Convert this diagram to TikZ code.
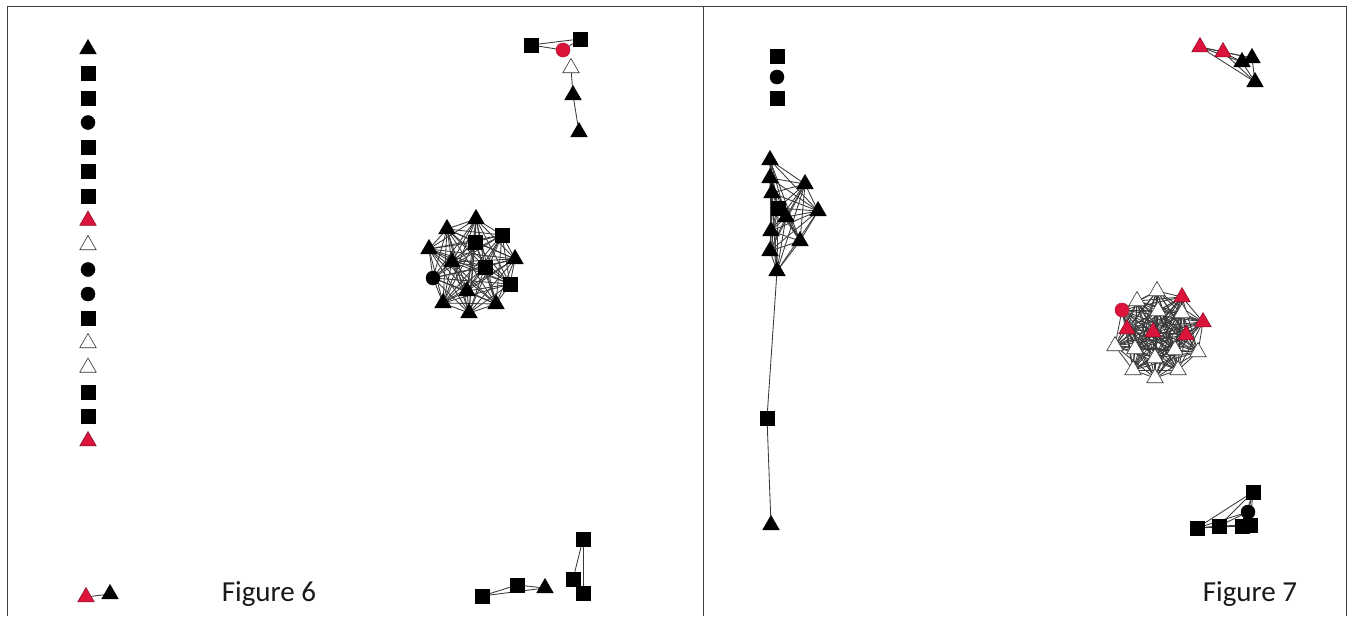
\documentclass[tikz,border=0pt]{standalone}
\usepackage{fontspec}
\setmainfont{Carlito}
\usetikzlibrary{shapes.geometric,backgrounds}
\definecolor{ink}{HTML}{000000}
\definecolor{netred}{HTML}{DC143C}
\definecolor{frame}{HTML}{404040}
\definecolor{link}{HTML}{3A3A3A}
\tikzset{
  vtx/.style={draw=ink, line width=0.5pt, inner sep=0pt},
  sqr/.style={vtx, rectangle, fill=ink, minimum size=14pt},
  dot/.style={vtx, circle, fill=ink, minimum size=14pt},
  rdot/.style={vtx, circle, fill=netred, draw=netred!80!black, minimum size=14pt},
  btri/.style={vtx, regular polygon, regular polygon sides=3, fill=ink, minimum size=19pt},
  rtri/.style={btri, fill=netred, draw=netred!60!black},
  wtri/.style={btri, fill=white, draw=ink!80, line width=0.6pt},
  link/.style={draw=link, line width=0.85pt},
  figlabel/.style={text=ink!90, font=\fontsize{29}{34}\selectfont}
}
\newcommand{\fullnet}[2]{%
  \foreach \i in {1,...,#2} {
    \foreach \j in {1,...,#2} {
      \ifnum\j>\i \draw[link] (#1\i) -- (#1\j); \fi
    }
  }
}

\begin{document}
\begin{tikzpicture}[x=1pt,y=-1pt]
  \useasboundingbox (0,0) rectangle (1351,616);
  \begin{scope}[on background layer]
    \fill[white] (0,0) rectangle (1351,616);
  \end{scope}

  % Two panels.
  \draw[frame, line width=1pt] (7,6) -- (1346,6);
  \draw[frame, line width=1pt] (7,6) -- (7,616);
  \draw[frame, line width=1pt] (703,6) -- (703,616);
  \draw[frame, line width=1pt] (1346,6) -- (1346,616);

  % Figure 6: isolated nodes.
  \foreach \s [count=\i] in {btri,sqr,sqr,dot,sqr,sqr,sqr,rtri,wtri,dot,dot,sqr,wtri,wtri,sqr,sqr,rtri} {
    \node[\s] (a\i) at (88,{24.5+24.5*\i}) {};
  }

  % Figure 6: top right chain.
  \node[sqr] (t1) at (531,45) {};
  \node[sqr] (t2) at (580,39) {};
  \node[rdot] (t3) at (563,50) {};
  \node[wtri] (t4) at (571,68) {};
  \node[btri] (t5) at (573,95) {};
  \node[btri] (t6) at (579,132) {};
  \begin{scope}[on background layer]
    \draw[link] (t1) -- (t2);
    \draw[link] (t1) -- (t3);
    \draw[link] (t3) -- (t2);
    \draw[link] (t4) -- (t5);
    \draw[link] (t5) -- (t6);
  \end{scope}

  % Figure 6: central clique.
  \node[btri] (c1) at (476,219) {};
  \node[btri] (c2) at (447,229) {};
  \node[sqr] (c3) at (502,235) {};
  \node[sqr] (c4) at (475,242) {};
  \node[btri] (c5) at (429,249) {};
  \node[btri] (c6) at (515,259) {};
  \node[btri] (c7) at (452,262) {};
  \node[sqr] (c8) at (485,267) {};
  \node[dot] (c9) at (433,278) {};
  \node[sqr] (c10) at (510,284) {};
  \node[btri] (c11) at (467,291) {};
  \node[btri] (c12) at (443,303) {};
  \node[btri] (c13) at (496,304) {};
  \node[btri] (c14) at (469,313) {};
  \begin{scope}[on background layer]
    \fullnet{c}{14}
  \end{scope}

  % Figure 6: bottom pieces.
  \node[sqr] (b1) at (482,596) {};
  \node[sqr] (b2) at (517,585) {};
  \node[btri] (b3) at (545,588) {};
  \node[sqr] (b4) at (583,539) {};
  \node[sqr] (b5) at (573,579) {};
  \node[sqr] (b6) at (583,593) {};
  \begin{scope}[on background layer]
    \draw[link] (b1) -- (b2);
    \draw[link] (b1) -- (b3);
    \draw[link] (b2) -- (b3);
    \draw[link] (b4) -- (b5);
    \draw[link] (b4) -- (b6);
    \draw[link] (b5) -- (b6);
  \end{scope}

  % Figure 6: legend pair.
  \node[rtri] (g1) at (86,597) {};
  \node[btri] (g2) at (110,594) {};
  \begin{scope}[on background layer]
    \draw[link] (g1) -- (g2);
  \end{scope}
  \node[figlabel] (f6) at (269,594) {Figure 6};

  % Figure 7: isolated nodes.
  \node[sqr] (s1) at (777,56) {};
  \node[dot] (s2) at (777,77) {};
  \node[sqr] (s3) at (777,98) {};

  % Figure 7: left clique and tail.
  \node[btri] (l1) at (770,160) {};
  \node[btri] (l2) at (770,178) {};
  \node[btri] (l3) at (772,193) {};
  \node[sqr] (l4) at (778,208) {};
  \node[btri] (l5) at (805,184) {};
  \node[btri] (l6) at (818,211) {};
  \node[btri] (l7) at (786,217) {};
  \node[btri] (l8) at (771,231) {};
  \node[btri] (l9) at (800,241) {};
  \node[btri] (l10) at (770,251) {};
  \node[btri] (l11) at (777,271) {};
  \node[sqr] (m1) at (767,418) {};
  \node[btri] (m2) at (771,525) {};
  \begin{scope}[on background layer]
    \fullnet{l}{11}
    \draw[link] (l11) -- (m1);
    \draw[link] (m1) -- (m2);
  \end{scope}

  % Figure 7: top right clique.
  \node[rtri] (r1) at (1200,47) {};
  \node[rtri] (r2) at (1223,52) {};
  \node[btri] (r3) at (1242,62) {};
  \node[btri] (r4) at (1252,58) {};
  \node[btri] (r5) at (1255,82) {};
  \begin{scope}[on background layer]
    \fullnet{r}{5}
  \end{scope}

  % Figure 7: central clique.
  \node[wtri] (k1) at (1157,291) {};
  \node[rtri] (k2) at (1182,297) {};
  \node[wtri] (k3) at (1137,301) {};
  \node[rdot] (k4) at (1122,310) {};
  \node[wtri] (k5) at (1158,311) {};
  \node[wtri] (k6) at (1182,313) {};
  \node[rtri] (k7) at (1203,322) {};
  \node[rtri] (k8) at (1127,329) {};
  \node[rtri] (k9) at (1153,332) {};
  \node[rtri] (k10) at (1186,335) {};
  \node[wtri] (k11) at (1115,346) {};
  \node[wtri] (k12) at (1135,349) {};
  \node[wtri] (k13) at (1175,350) {};
  \node[wtri] (k14) at (1198,352) {};
  \node[wtri] (k15) at (1155,358) {};
  \node[wtri] (k16) at (1133,370) {};
  \node[wtri] (k17) at (1178,370) {};
  \node[wtri] (k18) at (1155,378) {};
  \begin{scope}[on background layer]
    \fullnet{k}{18}
  \end{scope}

  % Figure 7: bottom right clique.
  \node[sqr] (q1) at (1253,492) {};
  \node[dot] (q2) at (1248,512) {};
  \node[sqr] (q3) at (1197,528) {};
  \node[sqr] (q4) at (1219,526) {};
  \node[sqr] (q5) at (1242,526) {};
  \node[sqr] (q6) at (1250,525) {};
  \begin{scope}[on background layer]
    \fullnet{q}{6}
  \end{scope}
  \node[figlabel] (f7) at (1250,594) {Figure 7};

\end{tikzpicture}
\end{document}
